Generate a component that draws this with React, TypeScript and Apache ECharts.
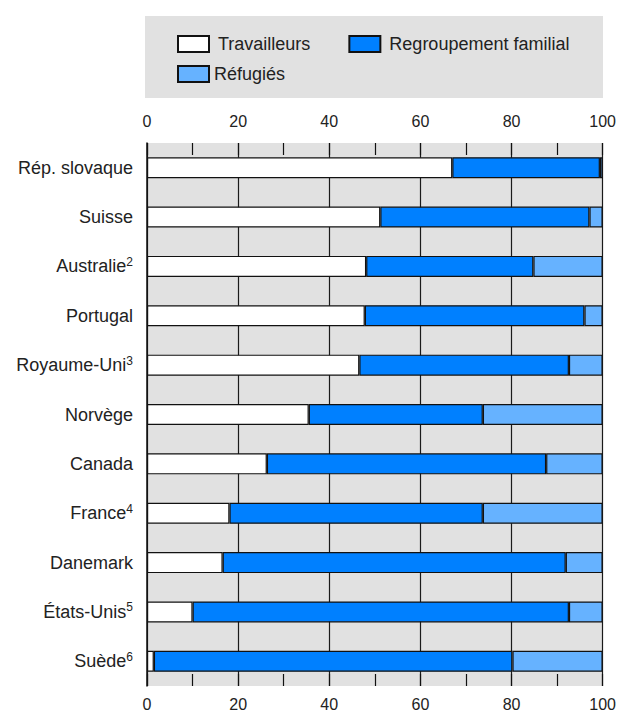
import React, { useEffect, useRef } from "react";
import * as echarts from "echarts";

const categories = [
  "Rép. slovaque",
  "Suisse",
  "Australie",
  "Portugal",
  "Royaume-Uni",
  "Norvège",
  "Canada",
  "France",
  "Danemark",
  "États-Unis",
  "Suède",
];
const notes = ["", "", "2", "", "3", "", "", "4", "", "5", "6"];

const travailleurs = [67.0, 51.2, 48.1, 47.8, 46.6, 35.5, 26.3, 18.1, 16.6, 10.0, 1.5];
const regroupement = [32.4, 45.9, 36.7, 48.2, 46.0, 38.2, 61.3, 55.6, 75.3, 82.6, 78.7];
const refugies = [0.6, 2.9, 15.2, 4.0, 7.4, 26.3, 12.4, 26.3, 8.1, 7.4, 19.8];

const seriesNames = ["Travailleurs", "Regroupement familial", "Réfugiés"];
const seriesColors = ["#ffffff", "#0080ff", "#66b2ff"];
const xTicks = [0, 20, 40, 60, 80, 100];

const FONT = "'Liberation Sans', Arial, Helvetica, sans-serif";
const TEXT = "#222222";

export default function App() {
  const ref = useRef<HTMLDivElement>(null);
  useEffect(() => {
    if (!ref.current) return;
    const chart = echarts.init(ref.current, undefined, { renderer: "svg" });
    const xMin = xTicks[0];
    const xMax = xTicks[xTicks.length - 1];
    const xInterval = xTicks[1] - xTicks[0];
    const makeX = (position: string, margin: number) => ({
      type: "value",
      position,
      min: xMin,
      max: xMax,
      interval: xInterval,
      axisLine: { show: false },
      axisTick: { show: true, inside: true, length: 12, lineStyle: { color: "#111", width: 1.2 } },
      minorTick: { show: true, splitNumber: 2, length: 12, lineStyle: { color: "#111", width: 1.2 } },
      splitLine: { show: position === "top", lineStyle: { color: "#1a1a1a", width: 1.2 } },
      axisLabel: { fontFamily: FONT, fontSize: 16, color: TEXT, margin },
    });
    const dataArrays = [travailleurs, regroupement, refugies];
    chart.setOption({
      animation: false,
      graphic: [
        {
          type: "rect",
          z: 0,
          shape: { x: 145, y: 16, width: 458, height: 82 },
          style: { fill: "#e1e1e1" },
        },
      ],
      legend: [
        {
          data: [seriesNames[0], seriesNames[1]],
          left: 177,
          top: 35,
          padding: 0,
          itemGap: 38,
          itemWidth: 31,
          itemHeight: 16,
          icon: "rect",
          z: 10,
          textStyle: { fontFamily: FONT, fontSize: 18, color: TEXT, padding: [0, 0, 0, 4] },
        },
        {
          data: [seriesNames[2]],
          left: 177,
          top: 65,
          padding: 0,
          itemWidth: 31,
          itemHeight: 16,
          icon: "rect",
          z: 10,
          textStyle: { fontFamily: FONT, fontSize: 18, color: TEXT, padding: [0, 0, 0, 0] },
        },
      ],
      grid: {
        left: 147,
        right: 16,
        top: 143,
        height: 543,
        show: true,
        backgroundColor: "#e1e1e1",
        borderWidth: 0,
        containLabel: false,
      },
      xAxis: [makeX("top", 14), makeX("bottom", 10)],
      yAxis: {
        type: "category",
        inverse: true,
        data: categories,
        axisLine: { show: true, lineStyle: { color: "#111", width: 1.5 } },
        axisTick: { show: false },
        splitLine: { show: false },
        axisLabel: {
          margin: 14,
          formatter: (value: string, index: number) =>
            notes[index] ? `{a|${value}}{s|${notes[index]}}` : `{a|${value}}`,
          rich: {
            a: { fontFamily: FONT, fontSize: 18, color: TEXT, lineHeight: 21 },
            s: { fontFamily: FONT, fontSize: 12, color: TEXT, verticalAlign: "top", lineHeight: 21, padding: [0, 0, 7, 0] },
          },
        },
      },
      series: seriesNames.map((name, i) => ({
        name,
        type: "bar",
        stack: "total",
        xAxisIndex: 0,
        barWidth: 21,
        data: dataArrays[i],
        itemStyle: { color: seriesColors[i], borderColor: "#111", borderWidth: 1.2 },
        z: 3,
      })),
    });
    return () => chart.dispose();
  }, []);
  return (
    <div
      ref={ref}
      style={{ position: "fixed", left: 0, top: 0, width: 619, height: 713, background: "#fff" }}
    />
  );
}
